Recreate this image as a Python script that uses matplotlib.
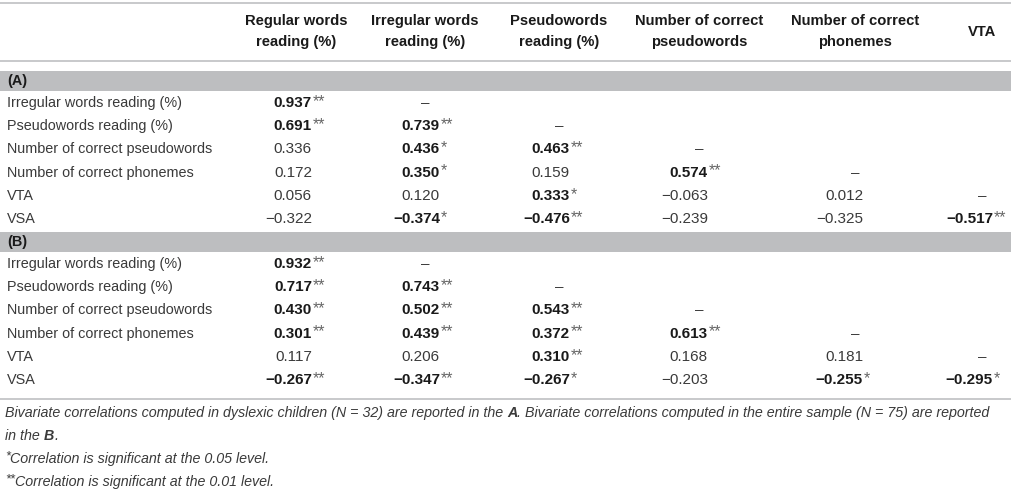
import numpy as np
import matplotlib.pyplot as plt

plt.rcParams['font.family'] = ['Liberation Sans', 'DejaVu Sans']

W, H = 1014, 492

col_labels = ['Regular words\nreading (%)', 'Irregular words\nreading (%)',
              'Pseudowords\nreading (%)', 'Number of correct\npseudowords',
              'Number of correct\nphonemes', 'VTA']
row_labels = ['Irregular words reading (%)', 'Pseudowords reading (%)',
              'Number of correct pseudowords', 'Number of correct phonemes',
              'VTA', 'VSA']
panel_names = ['(A)', '(B)']

# lower-triangular correlations, row i holds columns 0..i
vals_a = [[0.937],
          [0.691, 0.739],
          [0.336, 0.436, 0.463],
          [0.172, 0.350, 0.159, 0.574],
          [0.056, 0.120, 0.333, -0.063, 0.012],
          [-0.322, -0.374, -0.476, -0.239, -0.325, -0.517]]
sig_a = [[2],
         [2, 2],
         [0, 1, 2],
         [0, 1, 0, 2],
         [0, 0, 1, 0, 0],
         [0, 1, 2, 0, 0, 2]]

vals_b = [[0.932],
          [0.717, 0.743],
          [0.430, 0.502, 0.543],
          [0.301, 0.439, 0.372, 0.613],
          [0.117, 0.206, 0.310, 0.168, 0.181],
          [-0.267, -0.347, -0.267, -0.203, -0.255, -0.295]]
sig_b = [[2],
         [2, 2],
         [2, 2, 2],
         [2, 2, 2, 2],
         [0, 0, 2, 0, 0],
         [2, 2, 1, 0, 1, 1]]

note_a = 'Bivariate correlations computed in dyslexic children (N = 32) are reported in the '
note_b = '. Bivariate correlations computed in the entire sample (N = 75) are reported'
note_c = 'in the '
foot_1 = 'Correlation is significant at the 0.05 level.'
foot_2 = 'Correlation is significant at the 0.01 level.'

line_gray = '#c4c5c7'
band_gray = '#bdbec0'
dark = '#1a1a1a'
label_c = '#3a3a3a'
star_c = '#666666'
fs = 10.4
hfs = 10.6
vfs = 11.0

# layout in pixels
col_center = [296, 425, 559, 699, 855, 982]
num_right = [312, 440, 570, 708, 863, 993]
band_top = [71, 232]
row_step = 23.2

fig = plt.figure(figsize=(W / 100, H / 100), dpi=100)
ax = fig.add_axes([0, 0, 1, 1])
ax.set_xlim(0, W)
ax.set_ylim(H, 0)
ax.axis('off')


def hline(y):
    ax.plot([0, 1011], [y, y], color=line_gray, linewidth=1.3, solid_capstyle='butt')


hline(3)
hline(61)
hline(399)

for j, lab in enumerate(col_labels):
    ax.text(col_center[j], 31.5, lab, ha='center', va='center', fontsize=hfs,
            fontweight='bold', color=dark, linespacing=1.6)


def fmt(v):
    s = '%.3f' % abs(v)
    return ('\u2212' + s) if v < 0 else s


for p, (vals, sigs) in enumerate([(vals_a, sig_a), (vals_b, sig_b)]):
    bt = band_top[p]
    ax.add_patch(plt.Rectangle((0, bt), 1011, 20, color=band_gray, linewidth=0))
    ax.text(7, bt + 10, panel_names[p], ha='left', va='center', fontsize=fs,
            fontweight='bold', color=dark)
    for i, lab in enumerate(row_labels):
        y = bt + 32 + i * row_step
        ax.text(7, y, lab, ha='left', va='center', fontsize=fs, color=label_c)
        for j, v in enumerate(vals[i]):
            s = sigs[i][j]
            ax.text(num_right[j], y, fmt(v), ha='right', va='center', fontsize=vfs,
                    fontweight='bold' if s else 'normal',
                    color=dark if s else label_c)
            if s:
                ax.text(num_right[j] + 0.5, y - 1.5, '*' * s, ha='left',
                        va='center', fontsize=11.5, color=star_c)
        if i + 1 < len(col_center):
            ax.text(col_center[i + 1], y, '\u2013', ha='center', va='center',
                    fontsize=vfs, color=label_c)

# footnotes, pieced together so bold letters sit inline
fig.canvas.draw()
rend = fig.canvas.get_renderer()
inv = ax.transData.inverted()
nfs = 10.3


def chain(x, y, parts):
    for txt, bold, size, dy in parts:
        t = ax.text(x, y + dy, txt, ha='left', va='center', fontsize=size,
                    style='italic', fontweight='bold' if bold else 'normal',
                    color=label_c)
        bb = t.get_window_extent(renderer=rend)
        x = inv.transform((bb.x1, bb.y0))[0]


chain(5, 413, [(note_a, False, nfs, 0), ('A', True, nfs, 0), (note_b, False, nfs, 0)])
chain(5, 436, [(note_c, False, nfs, 0), ('B', True, nfs, 0), ('.', False, nfs, 0)])
chain(5, 459, [('*', False, nfs * 0.9, -3), (foot_1, False, nfs, 0)])
chain(5, 482, [('**', False, nfs * 0.9, -3), (foot_2, False, nfs, 0)])

fig.savefig('out.png', dpi=100)
